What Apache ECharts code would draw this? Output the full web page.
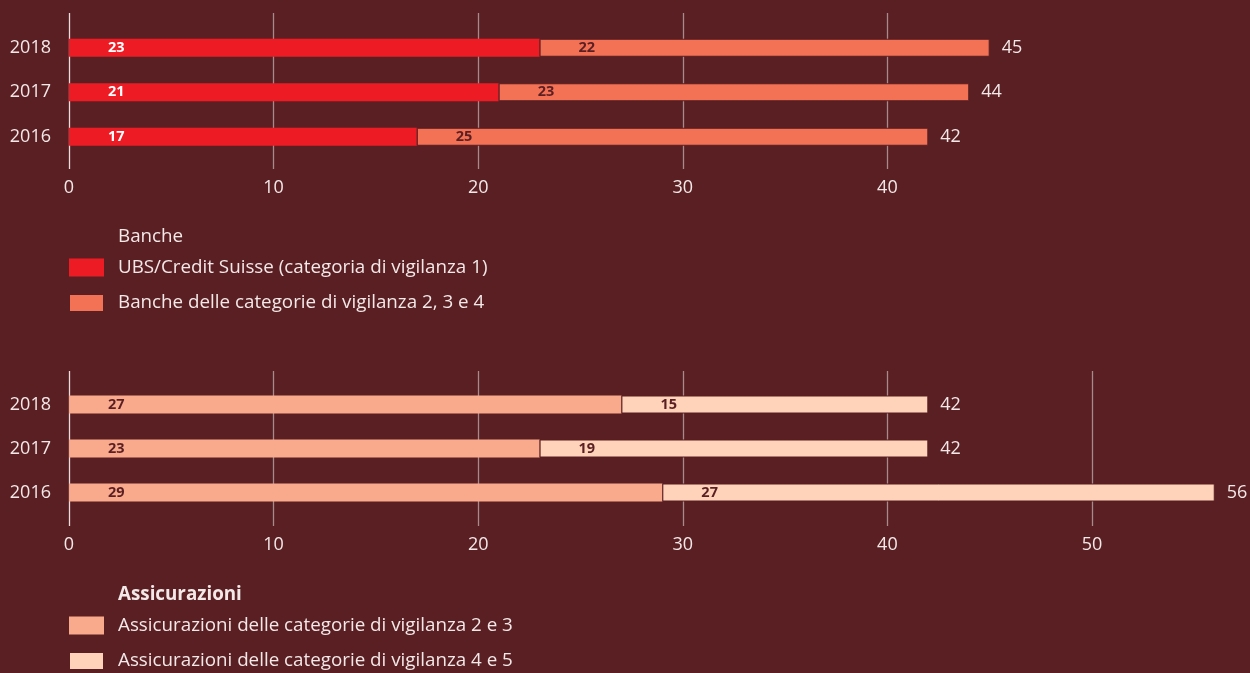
<!DOCTYPE html>
<html>
<head>
<meta charset="utf-8">
<script src="https://cdn.jsdelivr.net/npm/echarts@6/dist/echarts.min.js"></script>
<style>
  html, body { margin: 0; padding: 0; background: #5a1f23; }
  #chart { width: 1250px; height: 673px; }
</style>
</head>
<body>
<div id="chart"></div>
<script>
// Years shown on the category axes (bottom to top)
const years = ['2016', '2017', '2018'];

// Banks
const bankLegendTitle = 'Banche';
const bankNames = ['UBS/Credit Suisse (categoria di vigilanza 1)', 'Banche delle categorie di vigilanza 2, 3 e 4'];
const bigBanks = [17, 21, 23];
const otherBanks = [25, 23, 22];

// Insurers
const insurerLegendTitle = 'Assicurazioni';
const insurerNames = ['Assicurazioni delle categorie di vigilanza 2 e 3', 'Assicurazioni delle categorie di vigilanza 4 e 5'];
const insurers23 = [29, 23, 27];
const insurers45 = [27, 19, 15];

// Axis ranges
const bankTickMax = 40;
const insurerTickMax = 50;
const tickStep = 10;
const scaleMax = 56;

const bankTotals = bigBanks.map((v, i) => v + otherBanks[i]);
const insurerTotals = insurers23.map((v, i) => v + insurers45[i]);

const FONT = 'Open Sans';
const BG = '#5a1f23';
const TEXT = '#f3e8e8';
const GRID_GREY = '#a68a8c';
const PX_PER_UNIT = 20.46;
const LEFT = 69;
const AXIS_FS = 18;
const LEGEND_FS = 18.8;

function gridAxis(gridIndex, max) {
  return {
    gridIndex, type: 'value', min: 0, max, interval: tickStep,
    axisLine: { show: false }, axisTick: { show: false },
    axisLabel: { color: TEXT, fontSize: AXIS_FS, fontFamily: FONT, margin: 10 },
    splitLine: { show: true, lineStyle: { width: 1.3, color: ['#eadcdc', GRID_GREY, GRID_GREY, GRID_GREY, GRID_GREY, GRID_GREY] } }
  };
}
function barAxis(gridIndex) {
  return { gridIndex, type: 'value', min: 0, max: scaleMax, show: false, splitLine: { show: false } };
}
function yearAxis(gridIndex) {
  return {
    gridIndex, type: 'category', data: years,
    axisLine: { show: false }, axisTick: { show: false },
    axisLabel: { color: TEXT, fontSize: AXIS_FS, fontFamily: FONT, margin: 18 }
  };
}
function hiddenY(gridIndex) {
  return { gridIndex, type: 'value', min: 0, max: 1, show: false, splitLine: { show: false } };
}
function segment(name, data, axis, color, labelColor, bordered) {
  return {
    name, type: 'bar', stack: 'total' + axis, data,
    xAxisIndex: axis, yAxisIndex: axis,
    barWidth: 18, barGap: '-100%', z: 3,
    itemStyle: bordered ? { color, borderColor: BG, borderWidth: 1 } : { color },
    label: {
      show: true, position: 'insideLeft', distance: 39,
      color: labelColor, fontSize: 14.5, fontWeight: 'bold', fontFamily: FONT
    },
    emphasis: { disabled: true }
  };
}
function totals(data, axis) {
  return {
    name: 'totale' + axis, type: 'bar', data,
    xAxisIndex: axis, yAxisIndex: axis,
    barWidth: 18, barGap: '-100%', z: 1, silent: true,
    itemStyle: { color: 'transparent' },
    label: { show: true, position: 'right', distance: 12, color: TEXT, fontSize: AXIS_FS, fontFamily: FONT },
    emphasis: { disabled: true }
  };
}
function legend(names, top) {
  return {
    data: names, orient: 'vertical', left: LEFT - 1, top, padding: 0,
    itemWidth: 35, itemHeight: 18, itemGap: 16, icon: 'rect',
    selectedMode: false,
    textStyle: { color: TEXT, fontSize: LEGEND_FS, fontFamily: FONT, padding: [0, 0, 0, 9] }
  };
}

const chart = echarts.init(document.getElementById('chart'), null, { renderer: 'canvas' });
chart.setOption({
  backgroundColor: BG,
  animation: false,
  textStyle: { fontFamily: FONT },
  title: [
    { text: bankLegendTitle, left: 118, top: 227, padding: 0,
      textStyle: { color: TEXT, fontSize: LEGEND_FS, fontWeight: 'normal', fontFamily: FONT } },
    { text: insurerLegendTitle, left: 118, top: 585, padding: 0,
      textStyle: { color: TEXT, fontSize: LEGEND_FS, fontWeight: 'bold', fontFamily: FONT } }
  ],
  legend: [legend(bankNames, 258), legend(insurerNames, 616)],
  grid: [
    { left: LEFT, top: 13, width: bankTickMax * PX_PER_UNIT, height: 156 },
    { left: LEFT, top: 25.5, width: scaleMax * PX_PER_UNIT, height: 133.5 },
    { left: LEFT, top: 371, width: insurerTickMax * PX_PER_UNIT, height: 155 },
    { left: LEFT, top: 382.5, width: scaleMax * PX_PER_UNIT, height: 132 }
  ],
  xAxis: [gridAxis(0, bankTickMax), barAxis(1), gridAxis(2, insurerTickMax), barAxis(3)],
  yAxis: [hiddenY(0), yearAxis(1), hiddenY(2), yearAxis(3)],
  series: [
    segment(bankNames[0], bigBanks, 1, '#ed1c24', '#ffffff', false),
    segment(bankNames[1], otherBanks, 1, '#f37155', BG, true),
    totals(bankTotals, 1),
    segment(insurerNames[0], insurers23, 3, '#f9a98c', BG, false),
    segment(insurerNames[1], insurers45, 3, '#fed3b9', BG, true),
    totals(insurerTotals, 3)
  ]
});
</script>
</body>
</html>
